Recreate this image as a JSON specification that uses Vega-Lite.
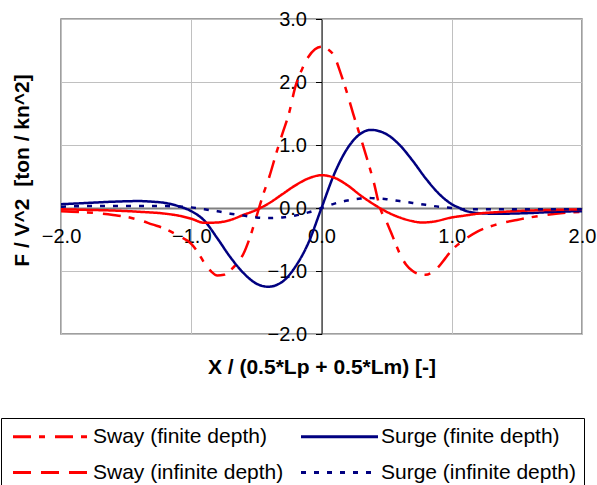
{
"$schema":"https://vega.github.io/schema/vega-lite/v6.json",
"width":521,"height":315,
"autosize":{"type":"none"},
"padding":{"left":61,"top":19,"right":15,"bottom":151},
"config":{"font":"Liberation Sans","view":{"stroke":"#808080","strokeWidth":1.5}},
"data":{"values":[
{"s":"Sway (finite depth)","x":-2.0,"y":-0.05},{"s":"Sway (finite depth)","x":-1.8,"y":-0.07},{"s":"Sway (finite depth)","x":-1.6,"y":-0.11},{"s":"Sway (finite depth)","x":-1.5,"y":-0.14},{"s":"Sway (finite depth)","x":-1.4,"y":-0.19},{"s":"Sway (finite depth)","x":-1.3,"y":-0.26},{"s":"Sway (finite depth)","x":-1.2,"y":-0.33},{"s":"Sway (finite depth)","x":-1.1,"y":-0.44},{"s":"Sway (finite depth)","x":-1.0,"y":-0.57},{"s":"Sway (finite depth)","x":-0.95,"y":-0.7},{"s":"Sway (finite depth)","x":-0.9,"y":-0.87},{"s":"Sway (finite depth)","x":-0.85,"y":-1.0},{"s":"Sway (finite depth)","x":-0.8,"y":-1.07},{"s":"Sway (finite depth)","x":-0.75,"y":-1.06},{"s":"Sway (finite depth)","x":-0.7,"y":-0.99},{"s":"Sway (finite depth)","x":-0.65,"y":-0.88},{"s":"Sway (finite depth)","x":-0.6,"y":-0.73},{"s":"Sway (finite depth)","x":-0.55,"y":-0.47},{"s":"Sway (finite depth)","x":-0.5,"y":-0.14},{"s":"Sway (finite depth)","x":-0.45,"y":0.2},{"s":"Sway (finite depth)","x":-0.4,"y":0.5},{"s":"Sway (finite depth)","x":-0.35,"y":0.85},{"s":"Sway (finite depth)","x":-0.3,"y":1.18},{"s":"Sway (finite depth)","x":-0.25,"y":1.5},{"s":"Sway (finite depth)","x":-0.2,"y":1.93},{"s":"Sway (finite depth)","x":-0.15,"y":2.2},{"s":"Sway (finite depth)","x":-0.1,"y":2.4},{"s":"Sway (finite depth)","x":-0.05,"y":2.52},{"s":"Sway (finite depth)","x":0.0,"y":2.56},{"s":"Sway (finite depth)","x":0.05,"y":2.52},{"s":"Sway (finite depth)","x":0.1,"y":2.4},{"s":"Sway (finite depth)","x":0.15,"y":2.12},{"s":"Sway (finite depth)","x":0.2,"y":1.8},{"s":"Sway (finite depth)","x":0.25,"y":1.45},{"s":"Sway (finite depth)","x":0.3,"y":1.12},{"s":"Sway (finite depth)","x":0.35,"y":0.78},{"s":"Sway (finite depth)","x":0.4,"y":0.42},{"s":"Sway (finite depth)","x":0.45,"y":0.0},{"s":"Sway (finite depth)","x":0.5,"y":-0.22},{"s":"Sway (finite depth)","x":0.55,"y":-0.47},{"s":"Sway (finite depth)","x":0.6,"y":-0.72},{"s":"Sway (finite depth)","x":0.65,"y":-0.9},{"s":"Sway (finite depth)","x":0.7,"y":-1.0},{"s":"Sway (finite depth)","x":0.75,"y":-1.05},{"s":"Sway (finite depth)","x":0.8,"y":-1.06},{"s":"Sway (finite depth)","x":0.85,"y":-1.02},{"s":"Sway (finite depth)","x":0.9,"y":-0.93},{"s":"Sway (finite depth)","x":0.95,"y":-0.8},{"s":"Sway (finite depth)","x":1.0,"y":-0.67},{"s":"Sway (finite depth)","x":1.1,"y":-0.5},{"s":"Sway (finite depth)","x":1.2,"y":-0.37},{"s":"Sway (finite depth)","x":1.3,"y":-0.29},{"s":"Sway (finite depth)","x":1.4,"y":-0.23},{"s":"Sway (finite depth)","x":1.5,"y":-0.19},{"s":"Sway (finite depth)","x":1.6,"y":-0.15},{"s":"Sway (finite depth)","x":1.8,"y":-0.09},{"s":"Sway (finite depth)","x":2.0,"y":-0.06},
{"s":"Surge (finite depth)","x":-2.0,"y":0.06},{"s":"Surge (finite depth)","x":-1.8,"y":0.08},{"s":"Surge (finite depth)","x":-1.6,"y":0.1},{"s":"Surge (finite depth)","x":-1.4,"y":0.11},{"s":"Surge (finite depth)","x":-1.3,"y":0.1},{"s":"Surge (finite depth)","x":-1.2,"y":0.08},{"s":"Surge (finite depth)","x":-1.1,"y":0.03},{"s":"Surge (finite depth)","x":-1.0,"y":-0.05},{"s":"Surge (finite depth)","x":-0.9,"y":-0.2},{"s":"Surge (finite depth)","x":-0.8,"y":-0.48},{"s":"Surge (finite depth)","x":-0.7,"y":-0.78},{"s":"Surge (finite depth)","x":-0.6,"y":-1.03},{"s":"Surge (finite depth)","x":-0.5,"y":-1.2},{"s":"Surge (finite depth)","x":-0.41,"y":-1.25},{"s":"Surge (finite depth)","x":-0.3,"y":-1.17},{"s":"Surge (finite depth)","x":-0.2,"y":-0.93},{"s":"Surge (finite depth)","x":-0.1,"y":-0.55},{"s":"Surge (finite depth)","x":0.0,"y":0.0},{"s":"Surge (finite depth)","x":0.1,"y":0.55},{"s":"Surge (finite depth)","x":0.2,"y":0.95},{"s":"Surge (finite depth)","x":0.3,"y":1.18},{"s":"Surge (finite depth)","x":0.38,"y":1.24},{"s":"Surge (finite depth)","x":0.5,"y":1.17},{"s":"Surge (finite depth)","x":0.6,"y":1.0},{"s":"Surge (finite depth)","x":0.7,"y":0.75},{"s":"Surge (finite depth)","x":0.8,"y":0.47},{"s":"Surge (finite depth)","x":0.9,"y":0.23},{"s":"Surge (finite depth)","x":1.0,"y":0.06},{"s":"Surge (finite depth)","x":1.06,"y":0.0},{"s":"Surge (finite depth)","x":1.1,"y":-0.04},{"s":"Surge (finite depth)","x":1.2,"y":-0.08},{"s":"Surge (finite depth)","x":1.3,"y":-0.09},{"s":"Surge (finite depth)","x":1.4,"y":-0.09},{"s":"Surge (finite depth)","x":1.6,"y":-0.08},{"s":"Surge (finite depth)","x":1.8,"y":-0.06},{"s":"Surge (finite depth)","x":2.0,"y":-0.05},
{"s":"Sway (infinite depth)","x":-2.0,"y":-0.02},{"s":"Sway (infinite depth)","x":-1.8,"y":-0.03},{"s":"Sway (infinite depth)","x":-1.6,"y":-0.04},{"s":"Sway (infinite depth)","x":-1.4,"y":-0.06},{"s":"Sway (infinite depth)","x":-1.2,"y":-0.09},{"s":"Sway (infinite depth)","x":-1.1,"y":-0.12},{"s":"Sway (infinite depth)","x":-1.0,"y":-0.17},{"s":"Sway (infinite depth)","x":-0.9,"y":-0.235},{"s":"Sway (infinite depth)","x":-0.8,"y":-0.23},{"s":"Sway (infinite depth)","x":-0.7,"y":-0.19},{"s":"Sway (infinite depth)","x":-0.6,"y":-0.11},{"s":"Sway (infinite depth)","x":-0.5,"y":-0.03},{"s":"Sway (infinite depth)","x":-0.4,"y":0.08},{"s":"Sway (infinite depth)","x":-0.3,"y":0.22},{"s":"Sway (infinite depth)","x":-0.2,"y":0.36},{"s":"Sway (infinite depth)","x":-0.1,"y":0.47},{"s":"Sway (infinite depth)","x":0.0,"y":0.52},{"s":"Sway (infinite depth)","x":0.1,"y":0.48},{"s":"Sway (infinite depth)","x":0.2,"y":0.36},{"s":"Sway (infinite depth)","x":0.3,"y":0.2},{"s":"Sway (infinite depth)","x":0.4,"y":0.06},{"s":"Sway (infinite depth)","x":0.5,"y":-0.06},{"s":"Sway (infinite depth)","x":0.6,"y":-0.15},{"s":"Sway (infinite depth)","x":0.7,"y":-0.21},{"s":"Sway (infinite depth)","x":0.77,"y":-0.23},{"s":"Sway (infinite depth)","x":0.85,"y":-0.22},{"s":"Sway (infinite depth)","x":1.0,"y":-0.15},{"s":"Sway (infinite depth)","x":1.1,"y":-0.12},{"s":"Sway (infinite depth)","x":1.2,"y":-0.09},{"s":"Sway (infinite depth)","x":1.4,"y":-0.06},{"s":"Sway (infinite depth)","x":1.6,"y":-0.04},{"s":"Sway (infinite depth)","x":1.8,"y":-0.03},{"s":"Sway (infinite depth)","x":2.0,"y":-0.02},
{"s":"Surge (infinite depth)","x":-2.0,"y":0.02},{"s":"Surge (infinite depth)","x":-1.8,"y":0.03},{"s":"Surge (infinite depth)","x":-1.6,"y":0.03},{"s":"Surge (infinite depth)","x":-1.4,"y":0.03},{"s":"Surge (infinite depth)","x":-1.2,"y":0.03},{"s":"Surge (infinite depth)","x":-1.0,"y":0.01},{"s":"Surge (infinite depth)","x":-0.9,"y":-0.02},{"s":"Surge (infinite depth)","x":-0.8,"y":-0.05},{"s":"Surge (infinite depth)","x":-0.7,"y":-0.09},{"s":"Surge (infinite depth)","x":-0.6,"y":-0.12},{"s":"Surge (infinite depth)","x":-0.5,"y":-0.15},{"s":"Surge (infinite depth)","x":-0.4,"y":-0.16},{"s":"Surge (infinite depth)","x":-0.3,"y":-0.15},{"s":"Surge (infinite depth)","x":-0.2,"y":-0.12},{"s":"Surge (infinite depth)","x":-0.1,"y":-0.07},{"s":"Surge (infinite depth)","x":0.0,"y":0.0},{"s":"Surge (infinite depth)","x":0.1,"y":0.07},{"s":"Surge (infinite depth)","x":0.2,"y":0.12},{"s":"Surge (infinite depth)","x":0.3,"y":0.15},{"s":"Surge (infinite depth)","x":0.35,"y":0.16},{"s":"Surge (infinite depth)","x":0.4,"y":0.155},{"s":"Surge (infinite depth)","x":0.5,"y":0.14},{"s":"Surge (infinite depth)","x":0.6,"y":0.11},{"s":"Surge (infinite depth)","x":0.7,"y":0.08},{"s":"Surge (infinite depth)","x":0.8,"y":0.05},{"s":"Surge (infinite depth)","x":0.9,"y":0.02},{"s":"Surge (infinite depth)","x":1.0,"y":0.0},{"s":"Surge (infinite depth)","x":1.1,"y":-0.02},{"s":"Surge (infinite depth)","x":1.2,"y":-0.02},{"s":"Surge (infinite depth)","x":1.5,"y":-0.02},{"s":"Surge (infinite depth)","x":2.0,"y":-0.02}
]},
"mark":{"type":"line","strokeWidth":2.5,"interpolate":"monotone","clip":true},
"encoding":{
"x":{"field":"x","type":"quantitative","scale":{"domain":[-2,2],"nice":false,"zero":false},
 "axis":{"orient":"bottom","offset":-126,"values":[-2,-1,0,1,2],"format":".1f","labelFontSize":20,"labelColor":"black","labelPadding":18,"ticks":false,"tickSize":0,"labelFlush":false,"labelOverlap":false,"domainColor":"#808080","domainWidth":2,"gridColor":"#c0c0c0","gridOpacity":1,"gridWidth":1,
 "title":"X / (0.5*Lp + 0.5*Lm) [-]","titleFontSize":21,"titleFontWeight":"bold","titleColor":"black","titleX":260.5,"titleY":159,"titleBaseline":"middle","titleAlign":"center"}},
"y":{"field":"y","type":"quantitative","scale":{"domain":[-2,3],"nice":false,"zero":false},
 "axis":{"orient":"left","offset":-260.5,"values":[-2,-1,0,1,2,3],"format":".1f","labelFontSize":20,"labelColor":"black","labelPadding":9,"tickSize":6,"tickColor":"black","labelFlush":false,"labelOverlap":false,"domainColor":"black","domainWidth":1,"gridColor":"#c0c0c0","gridOpacity":1,"gridWidth":1,
 "title":"F / V^2 \u00a0[ton / kn^2]","titleFontSize":21,"titleFontWeight":"bold","titleColor":"black","titleX":-299,"titleY":151,"titleBaseline":"middle","titleAlign":"center","titleAngle":-90}},
"color":{"field":"s","type":"nominal","sort":null,
 "scale":{"domain":["Sway (finite depth)","Surge (finite depth)","Sway (infinite depth)","Surge (infinite depth)"],"range":["#ff0000","#000080","#ff0000","#000080"]},
 "legend":{"orient":"none","direction":"horizontal","legendX":-60,"legendY":399,"columns":2,"title":null,"labelFontSize":21,"labelColor":"black","labelLimit":400,"symbolType":"M-1.3,0H14.1","symbolSize":100,"symbolStrokeWidth":3,"strokeColor":"black","fillColor":"white","padding":8,"columnPadding":11,"rowPadding":14,"labelOffset":63}},
"strokeDash":{"condition":{"test":"datum.s === 'Sway (infinite depth)'","value":[1,0]},"field":"s","type":"nominal","sort":null,
 "scale":{"domain":["Sway (finite depth)","Surge (finite depth)","Sway (infinite depth)","Surge (infinite depth)"],"range":[[18,8,6,10],[1,0],[18,10],[5,8]]}}
}
}
